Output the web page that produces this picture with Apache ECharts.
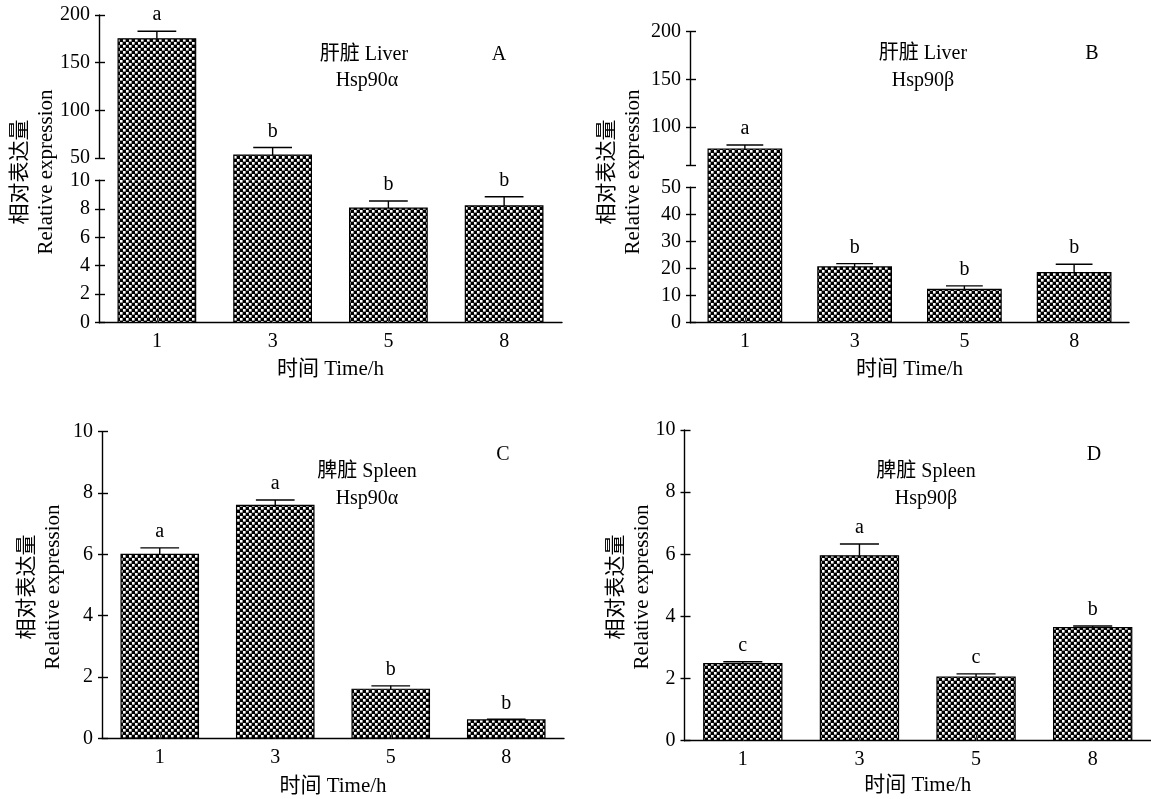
<!DOCTYPE html>
<html><head><meta charset="utf-8">
<script src="https://cdn.jsdelivr.net/npm/echarts@6/dist/echarts.min.js"></script>
<style>html,body{margin:0;padding:0;background:#fff}#chart{width:1151px;height:799px}</style>
</head><body><div id="chart"></div>
<script>
// ---------------- data ----------------
const categories = ['1', '3', '5', '8'];

const liverAlphaMean = [175, 53, 8.05, 8.2];
const liverAlphaErr = [8, 8, 0.5, 0.65];
const liverAlphaLetters = ['a', 'b', 'b', 'b'];

const liverBetaMean = [76.8, 20.6, 12.3, 18.5];
const liverBetaErr = [4.2, 1.2, 1.3, 3.1];
const liverBetaLetters = ['a', 'b', 'b', 'b'];

const spleenAlphaMean = [6.0, 7.6, 1.6, 0.6];
const spleenAlphaErr = [0.21, 0.17, 0.11, 0.02];
const spleenAlphaLetters = ['a', 'a', 'b', 'b'];

const spleenBetaMean = [2.48, 5.95, 2.05, 3.64];
const spleenBetaErr = [0.06, 0.38, 0.1, 0.05];
const spleenBetaLetters = ['c', 'a', 'c', 'b'];

const ticksLiverAlphaLow = [0, 2, 4, 6, 8, 10];
const ticksLiverAlphaUp = [50, 100, 150, 200];
const ticksLiverBetaLow = [0, 10, 20, 30, 40, 50];
const ticksLiverBetaUp = [100, 150, 200];
const ticksSpleen = [0, 2, 4, 6, 8, 10];

const yTitle = '相对表达量\nRelative expression';
const xTitle = '时间 Time/h';

// ---------------- styles ----------------
const SERIF = '"Liberation Serif", "Times New Roman", "Noto Sans CJK SC", serif';
const BAR_RATIO = 0.67;
const LINE_W = 1.4;

function makeChecker() {
  const c = document.createElement('canvas');
  c.width = 6; c.height = 6;
  const g = c.getContext('2d');
  g.fillStyle = '#000000'; g.fillRect(0, 0, 6, 6);
  g.fillStyle = '#ffffff';
  g.fillRect(0, 0, 2.6, 2.6); g.fillRect(3, 3, 2.6, 2.6);
  return c;
}
const checker = { image: makeChecker(), repeat: 'repeat' };

// ---------------- panel layout ----------------
const panels = [
  { mean: liverAlphaMean, err: liverAlphaErr, letters: liverAlphaLetters,
    left: 99, width: 463, nameGap: 36,
    low: { top: 180.3, bottom: 322.7, min: 0, max: 10, labels: ticksLiverAlphaLow },
    up: { top: 15, bottom: 158, min: 50, max: 200, labels: ticksLiverAlphaUp },
    title: { x: 33, y: 172 },
    texts: [['肝脏 Liver', 364, 55], ['Hsp90α', 367, 81], ['A', 499, 55]] },
  { mean: liverBetaMean, err: liverBetaErr, letters: liverBetaLetters,
    left: 690, width: 439, nameGap: 36,
    low: { top: 187.3, bottom: 322.7, min: 0, max: 50, labels: ticksLiverBetaLow },
    up: { top: 31.7, bottom: 165, min: 60, max: 200, labels: ticksLiverBetaUp },
    title: { x: 620, y: 172 },
    texts: [['肝脏 Liver', 923, 54], ['Hsp90β', 923, 81], ['B', 1092, 54]] },
  { mean: spleenAlphaMean, err: spleenAlphaErr, letters: spleenAlphaLetters,
    left: 102, width: 462, nameGap: 38,
    low: { top: 431.7, bottom: 738.3, min: 0, max: 10, labels: ticksSpleen },
    up: null,
    title: { x: 40, y: 587 },
    texts: [['脾脏 Spleen', 367, 472], ['Hsp90α', 367, 499], ['C', 503, 455]] },
  { mean: spleenBetaMean, err: spleenBetaErr, letters: spleenBetaLetters,
    left: 684.5, width: 468, nameGap: 34,
    low: { top: 430, bottom: 740.7, min: 0, max: 10, labels: ticksSpleen },
    up: null,
    title: { x: 629, y: 587 },
    texts: [['脾脏 Spleen', 926, 472], ['Hsp90β', 926, 499], ['D', 1094, 455]] }
];

const option = { animation: false, backgroundColor: '#fff', grid: [], xAxis: [], yAxis: [], series: [], graphic: [] };

function addGrid(left, top, width, height) {
  option.grid.push({ left: left, top: top, width: width, height: height });
  return option.grid.length - 1;
}
function addHiddenX(gi) {
  option.xAxis.push({ type: 'category', gridIndex: gi, data: categories, show: false });
  return option.xAxis.length - 1;
}
function addVisibleX(gi, nameGap) {
  option.xAxis.push({
    type: 'category', gridIndex: gi, data: categories, z: 5,
    axisLine: { show: true, onZero: false, lineStyle: { color: '#000', width: LINE_W } },
    axisTick: { show: true, inside: true, alignWithLabel: true, length: 6, lineStyle: { color: '#444', width: 1 } },
    axisLabel: { color: '#000', fontSize: 20, fontFamily: SERIF, margin: 9 },
    name: xTitle, nameLocation: 'middle', nameGap: nameGap,
    nameTextStyle: { color: '#000', fontSize: 21, fontFamily: SERIF }
  });
  return option.xAxis.length - 1;
}
function addVisibleY(gi, min, max, ticks, labels) {
  option.yAxis.push({
    type: 'value', gridIndex: gi, min: min, max: max, position: 'left', z: 5,
    axisLine: { show: true, onZero: false, lineStyle: { color: '#000', width: LINE_W } },
    axisTick: { show: true, inside: false, length: 4, customValues: ticks, lineStyle: { color: '#000', width: LINE_W } },
    axisLabel: { show: true, customValues: labels, color: '#000', fontSize: 20, fontFamily: SERIF, margin: 9 },
    splitLine: { show: false }
  });
  const main = option.yAxis.length - 1;
  option.yAxis.push({
    type: 'value', gridIndex: gi, min: min, max: max, position: 'left', z: 5,
    axisLine: { show: false },
    axisTick: { show: true, inside: true, length: 6, customValues: ticks, lineStyle: { color: '#000', width: LINE_W } },
    axisLabel: { show: false }, splitLine: { show: false }
  });
  return main;
}
function addHiddenY(gi, min, max) {
  option.yAxis.push({ type: 'value', gridIndex: gi, min: min, max: max, show: false, splitLine: { show: false } });
  return option.yAxis.length - 1;
}

function barSeries(xi, yi, panel) {
  return {
    type: 'custom', xAxisIndex: xi, yAxisIndex: yi, clip: true, z: 2,
    data: panel.mean.map((v, i) => [i, v]),
    encode: { x: 0, y: 1 },
    renderItem: function (params, api) {
      const i = api.value(0), v = api.value(1);
      const base = api.coord([i, 0]);
      const top = api.coord([i, v]);
      const w = api.size([1, 0])[0] * BAR_RATIO;
      return {
        type: 'rect',
        shape: { x: base[0] - w / 2, y: top[1], width: w, height: base[1] - top[1] },
        style: { fill: checker, stroke: '#000', lineWidth: 1.2 }
      };
    }
  };
}
function errSeries(xi, yi, panel, idx) {
  return {
    type: 'custom', xAxisIndex: xi, yAxisIndex: yi, clip: false, z: 4,
    data: idx.map(i => [i, panel.mean[i], panel.err[i]]),
    encode: { x: 0, y: 1 },
    renderItem: function (params, api) {
      const i = api.value(0), m = api.value(1), e = api.value(2);
      const p0 = api.coord([i, m]);
      const p1 = api.coord([i, m + e]);
      const cw = api.size([1, 0])[0] * BAR_RATIO * 0.5;
      return {
        type: 'group',
        children: [
          { type: 'line', shape: { x1: p0[0], y1: p0[1], x2: p1[0], y2: p1[1] }, style: { stroke: '#000', lineWidth: LINE_W } },
          { type: 'line', shape: { x1: p1[0] - cw / 2, y1: p1[1], x2: p1[0] + cw / 2, y2: p1[1] }, style: { stroke: '#000', lineWidth: LINE_W } },
          { type: 'text', x: p1[0], y: p1[1] - 16,
            style: { text: panel.letters[i], fill: '#000', fontSize: 20, fontFamily: SERIF,
                     align: 'center', verticalAlign: 'middle', textAlign: 'center', textVerticalAlign: 'middle' } }
        ]
      };
    }
  };
}

panels.forEach(p => {
  const low = p.low;
  const gLow = addGrid(p.left, low.top, p.width, low.bottom - low.top);
  const xLow = addVisibleX(gLow, p.nameGap);
  const yLow = addVisibleY(gLow, low.min, low.max, low.labels, low.labels);
  option.series.push(barSeries(xLow, yLow, p));
  const lowIdx = [], upIdx = [];
  p.mean.forEach((m, i) => { (m > low.max ? upIdx : lowIdx).push(i); });
  if (lowIdx.length) option.series.push(errSeries(xLow, yLow, p, lowIdx));

  if (p.up) {
    const up = p.up;
    const gAx = addGrid(p.left, up.top, p.width, up.bottom - up.top);
    addHiddenX(gAx);
    const tickVals = up.labels.indexOf(up.min) >= 0 ? up.labels : [up.min].concat(up.labels);
    addVisibleY(gAx, up.min, up.max, tickVals, up.labels);
    const unitsPerPx = (up.max - up.min) / (up.bottom - up.top);
    const barsMin = up.min - (low.top - up.bottom) * unitsPerPx;
    const gBars = addGrid(p.left, up.top, p.width, low.top - up.top);
    const xB = addHiddenX(gBars);
    const yB = addHiddenY(gBars, barsMin, up.max);
    option.series.push(barSeries(xB, yB, p));
    if (upIdx.length) option.series.push(errSeries(xB, yB, p, upIdx));
  }

  option.graphic.push({
    type: 'text', x: p.title.x, y: p.title.y, rotation: Math.PI / 2,
    style: { text: yTitle, fill: '#000', fontSize: 21, lineHeight: 26, fontFamily: SERIF,
             align: 'center', verticalAlign: 'middle', textAlign: 'center', textVerticalAlign: 'middle' }
  });
  p.texts.forEach(t => {
    option.graphic.push({
      type: 'text', x: t[1], y: t[2],
      style: { text: t[0], fill: '#000', fontSize: 20, fontFamily: SERIF,
               align: 'center', verticalAlign: 'middle', textAlign: 'center', textVerticalAlign: 'middle' }
    });
  });
});

const chart = echarts.init(document.getElementById('chart'), null, { renderer: 'canvas' });
chart.setOption(option);
</script></body></html>
